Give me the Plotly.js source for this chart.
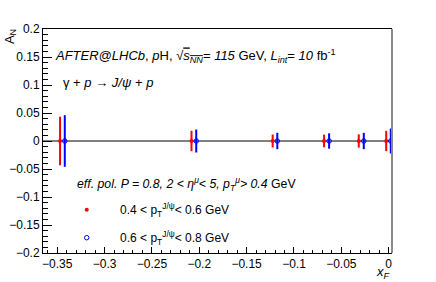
<!DOCTYPE html>
<html>
<head>
<meta charset="utf-8">
<script src="https://cdn.plot.ly/plotly-3.0.1.min.js"></script>
<style>html,body{margin:0;padding:0;background:#fff;}#chart{width:436px;height:282px;}</style>
</head>
<body>
<div id="chart"></div>
<script>
// Data
const xRed  = [-0.347, -0.2082, -0.1225, -0.0682, -0.0316, -0.0026];
const yRed  = [0, 0, 0, 0, 0, 0];
const eRed  = [0.0434, 0.0182, 0.0116, 0.0113, 0.0119, 0.0182];
const xBlue = [-0.342, -0.2032, -0.1176, -0.0629, -0.0263, 0.0022];
const yBlue = [0, 0, 0, 0, 0, 0];
const eBlue = [0.0461, 0.0205, 0.0146, 0.0137, 0.0146, 0.0223];
const nameRed  = "\u00a0\u00a0\u00a0\u00a00.4 &lt; p<sub>T</sub><sup>J/ψ</sup>&lt; 0.6 GeV";
const nameBlue = "\u00a0\u00a0\u00a0\u00a00.6 &lt; p<sub>T</sub><sup>J/ψ</sup>&lt; 0.8 GeV";
const xTicks = [-0.35, -0.3, -0.25, -0.2, -0.15, -0.1, -0.05, 0];
const yTicks = [-0.2, -0.15, -0.1, -0.05, 0, 0.05, 0.1, 0.15, 0.2];

const FONT = "Liberation Sans, Arial, Helvetica, sans-serif";

const traces = [
  {x: xRed, y: yRed, type: 'scatter', mode: 'markers', name: nameRed, legendgroup: 'a',
   marker: {color: '#ff0000', size: 4, symbol: 'circle'},
   error_y: {type: 'data', array: eRed, visible: true, color: '#ff0000', thickness: 2, width: 0}},
  {x: xBlue, y: yBlue, type: 'scatter', mode: 'markers', name: nameBlue, legendgroup: 'b',
   marker: {color: '#0000ff', size: 4.5, symbol: 'circle-open', line: {width: 1, color: '#0000ff'}},
   error_y: {type: 'data', array: eBlue, visible: true, color: '#0000ff', thickness: 2, width: 0}}
];

const layout = {
  width: 436, height: 282,
  margin: {l: 43, r: 44, t: 29, b: 29, pad: 0},
  paper_bgcolor: '#fff', plot_bgcolor: '#fff',
  font: {family: FONT, size: 12, color: '#000'},
  showlegend: true,
  legend: {x: 0.068, y: 0.258, xanchor: 'left', yanchor: 'top', bgcolor: 'rgba(0,0,0,0)',
           font: {family: FONT, size: 12, color: '#000'}, tracegroupgap: 9, traceorder: 'grouped', itemwidth: 30},
  xaxis: {range: [-0.365, 0.0035], tickvals: xTicks, ticks: 'inside', ticklen: 6, tickcolor: '#000', tickwidth: 1,
          showline: true, linecolor: '#000', linewidth: 1, mirror: true, showgrid: false, zeroline: false,
          tickfont: {family: FONT, size: 12, color: '#000'},
          minor: {dtick: 0.01, tick0: 0, ticks: 'inside', ticklen: 3, tickcolor: '#000', showgrid: false}},
  yaxis: {range: [-0.2, 0.2], tickvals: yTicks, ticks: 'inside', ticklen: 9, tickcolor: '#000', tickwidth: 1,
          showline: true, linecolor: '#000', linewidth: 1, mirror: false, showgrid: false,
          zeroline: true, zerolinecolor: '#808080', zerolinewidth: 2,
          tickfont: {family: FONT, size: 12, color: '#000'},
          minor: {dtick: 0.01, tick0: 0, ticks: 'inside', ticklen: 5, tickcolor: '#000', showgrid: false}},
  shapes: [
    {type: 'line', xref: 'paper', yref: 'paper', x0: 1, x1: 1, y0: 0, y1: 1, line: {color: '#8a8a8a', width: 2}}
  ],
  annotations: [
    {xref: 'paper', yref: 'paper', x: 0.0287, y: 0.881, xanchor: 'left', yanchor: 'middle', showarrow: false,
     text: "<i>AFTER@LHCb</i>, <i>p</i>H, √<span style='text-decoration:overline'><i>s<sub>NN</sub></i></span>= <i>115</i> GeV, <i>L<sub>int</sub></i>= <i>10</i> fb<sup>-1</sup>",
     font: {family: FONT, size: 13, color: '#000'}},
    {xref: 'paper', yref: 'paper', x: 0.0516, y: 0.763, xanchor: 'left', yanchor: 'middle', showarrow: false,
     text: "γ + <i>p</i> → <i>J/ψ</i> + <i>p</i>", font: {family: FONT, size: 13, color: '#000'}},
    {xref: 'paper', yref: 'paper', x: 0.0917, y: 0.308, xanchor: 'left', yanchor: 'middle', showarrow: false,
     text: "<i>eff. pol. P = 0.8, 2 &lt; η<sup>μ</sup>&lt; 5, p<sub>T</sub><sup>μ</sup>&gt; 0.4</i> GeV", font: {family: FONT, size: 12.3, color: '#000'}},
    {xref: 'paper', yref: 'paper', x: -0.095, y: 1.01, xanchor: 'center', yanchor: 'top', showarrow: false, textangle: -90,
     text: "A<sub>N</sub>", font: {family: FONT, size: 13, color: '#000'}},
    {xref: 'paper', yref: 'paper', x: 1.0, y: -0.089, xanchor: 'right', yanchor: 'middle', showarrow: false,
     text: "<i>x<sub>F</sub></i>", font: {family: FONT, size: 13, color: '#000'}}
  ]
};

Plotly.newPlot('chart', traces, layout, {displayModeBar: false, staticPlot: true});
</script>
</body>
</html>
